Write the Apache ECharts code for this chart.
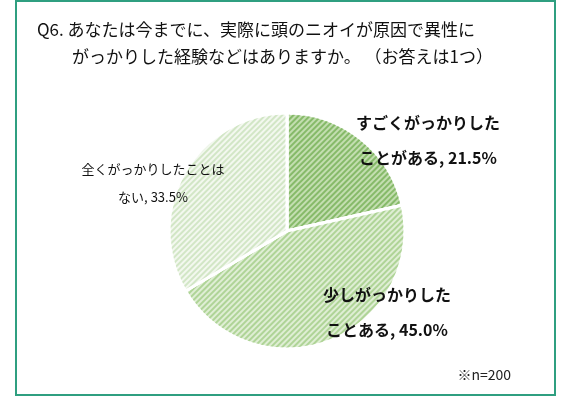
<!DOCTYPE html>
<html>
<head>
<meta charset="utf-8">
<script src="https://cdn.jsdelivr.net/npm/echarts@6/dist/echarts.min.js"></script>
<style>
html, body { margin: 0; padding: 0; background: #fff; }
#chart { width: 573px; height: 397px; }
</style>
</head>
<body>
<div id="chart"></div>
<script>
// data
var categories = ['すごくがっかりした\nことがある', '少しがっかりした\nことある', '全くがっかりしたことは\nない'];
var values = [21.5, 45.0, 33.5];
var titleLines = ['Q6. あなたは今までに、実際に頭のニオイが原因で異性に', 'がっかりした経験などはありますか。 （お答えは1つ）'];
var note = '※n=200';

var fill = ['#c3deb0', '#dfeed4', '#f3f8ef'];
var stripe = ['#86ba69', '#afd497', '#d2e6c6'];
var labelPos = [[428, 140], [387, 312], [153, 183]];
var bold = [true, true, false];

var chart = echarts.init(document.getElementById('chart'));

var seriesData = values.map(function (v, i) {
    return {
        name: categories[i],
        value: v,
        itemStyle: {
            color: fill[i],
            decal: {
                symbol: 'rect',
                symbolSize: 1,
                color: stripe[i],
                dashArrayX: [1, 0],
                dashArrayY: [1.5, 1.5],
                rotation: -Math.PI / 4
            }
        },
        label: {
            fontSize: bold[i] ? 16 : 13,
            fontWeight: bold[i] ? 'bold' : 'normal',
            lineHeight: bold[i] ? 35 : 28
        }
    };
});

chart.setOption({
    animation: false,
    backgroundColor: '#fff',
    textStyle: { fontFamily: '"Noto Sans CJK JP", "Noto Sans", sans-serif' },
    title: [
        { text: titleLines[0], left: 32, top: 16, textStyle: { fontSize: 17, fontWeight: 'normal', color: '#111' } },
        { text: titleLines[1], left: 67, top: 43, textStyle: { fontSize: 17, fontWeight: 'normal', color: '#111' } },
        { text: note, right: 57, bottom: 10, textStyle: { fontSize: 14, fontWeight: 'normal', color: '#222' } }
    ],
    graphic: [{
        type: 'rect',
        shape: { x: 16, y: 1, width: 539, height: 394 },
        style: { fill: 'none', stroke: '#2f9f80', lineWidth: 2 },
        silent: true
    }],
    series: [{
        type: 'pie',
        center: [287, 231],
        radius: 118,
        startAngle: 90,
        clockwise: true,
        itemStyle: { borderColor: '#fff', borderWidth: 3 },
        label: {
            show: true,
            color: '#111',
            overflow: 'none',
            formatter: function (p) { return p.name + ', ' + p.value.toFixed(1) + '%'; },
            align: 'center'
        },
        labelLine: { show: false },
        labelLayout: function (params) {
            var p = labelPos[params.dataIndex];
            return { x: p[0], y: p[1], align: 'center', verticalAlign: 'middle' };
        },
        emphasis: { disabled: true },
        data: seriesData
    }]
});
</script>
</body>
</html>
